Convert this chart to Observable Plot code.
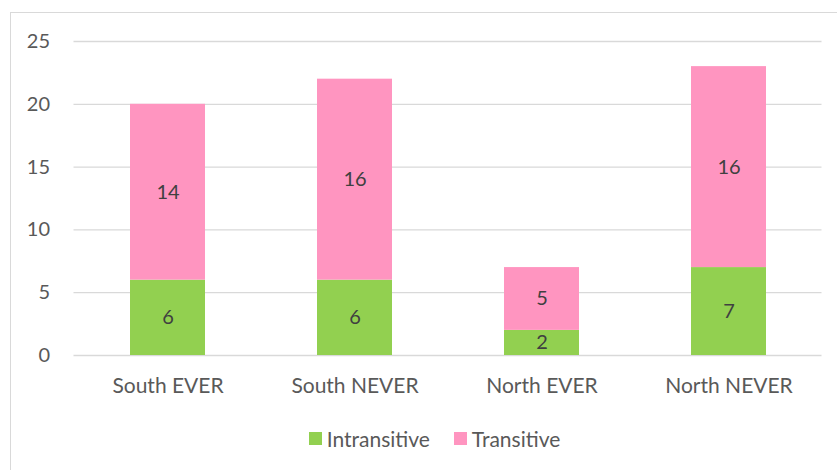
<!DOCTYPE html>
<html>
<head>
<meta charset="utf-8">
<script src="https://cdn.jsdelivr.net/npm/d3@7"></script>
<script src="https://cdn.jsdelivr.net/npm/@observablehq/plot@0.6"></script>
<style>
  html, body { margin: 0; padding: 0; background: #fff; overflow: hidden; width: 837px; height: 470px; }
  #wrap { position: relative; width: 837px; height: 470px; }
  #frame { position: absolute; left: 10px; top: 12px; width: 900px; height: 500px; border: 1px solid #d9d9d9; box-sizing: border-box; }
  #chart { position: absolute; left: 0; top: 0; }
  #legend { position: absolute; left: 10px; top: 424px; width: 849px; height: 28px; display: flex; justify-content: center; align-items: center; gap: 24px;
            font-family: Lato, "Open Sans", sans-serif; font-size: 21px; color: #595959; }
  #legend span { display: inline-flex; align-items: center; gap: 5px; }
  #legend i { display: inline-block; width: 13px; height: 13px; }
</style>
</head>
<body>
<div id="wrap">
  <div id="frame"></div>
  <div id="chart"></div>
  <div id="legend"></div>
</div>
<script>
const groups = ["South EVER", "South NEVER", "North EVER", "North NEVER"];
const seriesNames = ["Intransitive", "Transitive"];
const intransitive = [6, 6, 2, 7];
const transitive = [14, 16, 5, 16];
const seriesColors = ["#92d050", "#ff95c0"];
const yTicks = [0, 5, 10, 15, 20, 25];

const rows = [];
groups.forEach((g, i) => {
  rows.push({group: g, series: seriesNames[0], value: intransitive[i]});
  rows.push({group: g, series: seriesNames[1], value: transitive[i]});
});

const font = "Lato, 'Open Sans', sans-serif";

const chart = Plot.plot({
  width: 837,
  height: 415,
  marginLeft: 73.5,
  marginRight: 15.5,
  marginTop: 41,
  marginBottom: 60,
  style: {fontFamily: font, fontSize: "20px", color: "#595959", background: "transparent"},
  x: {domain: groups, paddingInner: 0.6, paddingOuter: 0.3, label: null},
  y: {domain: [0, 25], label: null},
  color: {domain: seriesNames, range: seriesColors},
  marks: [
    Plot.ruleY(yTicks, {stroke: "#d9d9d9", strokeWidth: 1.3}),
    Plot.barY(rows, Plot.stackY({x: "group", y: "value", fill: "series", order: seriesNames})),
    Plot.text(rows, Plot.stackY({x: "group", y: "value", z: "series", order: seriesNames, text: d => String(d.value),
      fill: "#404040", fontSize: 20})),
    Plot.axisX({tickSize: 0, tickPadding: 23, fontSize: 21, fill: "#595959", label: null}),
    Plot.axisY({ticks: yTicks, tickSize: 0, tickPadding: 24, fontSize: 20, fill: "#595959", label: null})
  ]
});
document.getElementById("chart").append(chart);

const legend = document.getElementById("legend");
seriesNames.forEach((s, i) => {
  const item = document.createElement("span");
  const sw = document.createElement("i");
  sw.style.background = seriesColors[i];
  item.append(sw, document.createTextNode(s));
  legend.append(item);
});
</script>
</body>
</html>
